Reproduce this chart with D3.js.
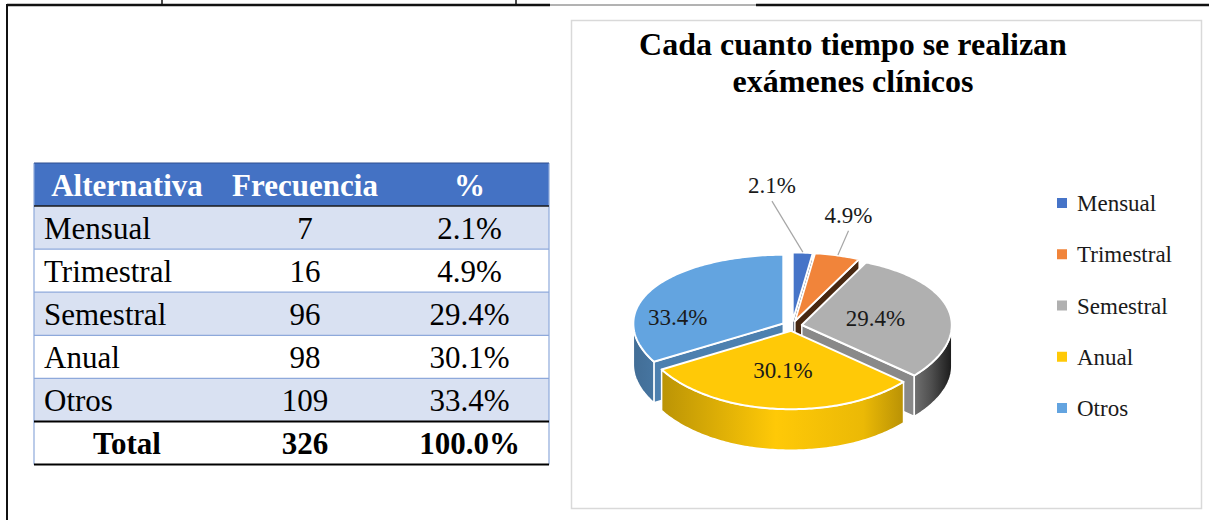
<!DOCTYPE html>
<html>
<head>
<meta charset="utf-8">
<script src="https://cdn.jsdelivr.net/npm/d3@7"></script>
<style>
  body { margin: 0; background: #ffffff; overflow: hidden; }
</style>
</head>
<body>
<script>
const categories = ["Mensual", "Trimestral", "Semestral", "Anual", "Otros"];
const frequencies = [7, 16, 96, 98, 109];
const percentLabels = ["2.1%", "4.9%", "29.4%", "30.1%", "33.4%"];
const headers = ["Alternativa", "Frecuencia", "%"];
const totalRow = ["Total", "326", "100.0%"];
const titleLines = ["Cada cuanto tiempo se realizan", "exámenes clínicos"];

const sliceColors = ["#4674C8", "#F1843A", "#B0B0B0", "#FFC907", "#63A4E0"];

const width = 1209;
const height = 520;
const serif = "'Liberation Serif', 'Times New Roman', serif";

const svg = d3
  .select("body")
  .append("svg")
  .attr("width", width)
  .attr("height", height);

// page frame (top rule and left rule of the scanned page)
const frame = svg.append("g").attr("stroke", "#111");
frame.append("line").attr("x1", 7).attr("y1", 5).attr("x2", 550).attr("y2", 5).attr("stroke-width", 2.5);
frame.append("line").attr("x1", 550).attr("y1", 5).attr("x2", 756).attr("y2", 5).attr("stroke", "#666").attr("stroke-width", 1);
frame.append("line").attr("x1", 756).attr("y1", 5).attr("x2", width).attr("y2", 5).attr("stroke-width", 2.5);
frame.append("line").attr("x1", 7).attr("y1", 4).attr("x2", 7).attr("y2", height).attr("stroke-width", 2);
[162, 516].forEach((x) => {
  frame.append("line").attr("x1", x).attr("y1", 0).attr("x2", x).attr("y2", 4).attr("stroke-width", 1.5);
});

// ---------- table ----------
const colEdges = [34, 220, 390, 549];
const colCenter = (i) => (colEdges[i] + colEdges[i + 1]) / 2;
const rowKeys = ["header", ...categories, "total"];
const rowScale = d3.scaleBand().domain(rowKeys).range([163, 464.5]);
const rowH = rowScale.bandwidth();

const table = svg.append("g").attr("font-family", serif).attr("font-size", 31);

table
  .append("rect")
  .attr("x", colEdges[0])
  .attr("y", rowScale("header"))
  .attr("width", colEdges[3] - colEdges[0])
  .attr("height", rowH)
  .attr("fill", "#4472C4");

categories.forEach((cat, i) => {
  const y = rowScale(cat);
  table
    .append("rect")
    .attr("x", colEdges[0])
    .attr("y", y)
    .attr("width", colEdges[3] - colEdges[0])
    .attr("height", rowH)
    .attr("fill", i % 2 === 0 ? "#D9E1F2" : "#FFFFFF");
  const cells = [cat, String(frequencies[i]), percentLabels[i]];
  cells.forEach((t, j) => {
    table
      .append("text")
      .attr("x", j === 0 ? colEdges[0] + 10 : colCenter(j))
      .attr("y", y + rowH / 2 + 11)
      .attr("text-anchor", j === 0 ? "start" : "middle")
      .attr("fill", "#000")
      .text(t);
  });
  if (i > 0) {
    table
      .append("line")
      .attr("x1", colEdges[0])
      .attr("x2", colEdges[3])
      .attr("y1", y)
      .attr("y2", y)
      .attr("stroke", "#8EA9DB")
      .attr("stroke-width", 1.2);
  }
});

headers.forEach((t, j) => {
  table
    .append("text")
    .attr("x", colCenter(j))
    .attr("y", rowScale("header") + rowH / 2 + 11)
    .attr("text-anchor", "middle")
    .attr("font-weight", "bold")
    .attr("fill", "#fff")
    .text(t);
});

totalRow.forEach((t, j) => {
  table
    .append("text")
    .attr("x", colCenter(j))
    .attr("y", rowScale("total") + rowH / 2 + 11)
    .attr("text-anchor", "middle")
    .attr("font-weight", "bold")
    .attr("fill", "#000")
    .text(t);
});

const tableTop = rowScale("header");
const tableBottom = rowScale("total") + rowH;
table.append("line").attr("x1", colEdges[0]).attr("x2", colEdges[0]).attr("y1", tableTop).attr("y2", tableBottom).attr("stroke", "#8EA9DB").attr("stroke-width", 1.2);
table.append("line").attr("x1", colEdges[3]).attr("x2", colEdges[3]).attr("y1", tableTop).attr("y2", tableBottom).attr("stroke", "#8EA9DB").attr("stroke-width", 1.2);
table.append("line").attr("x1", colEdges[0]).attr("x2", colEdges[3]).attr("y1", tableTop).attr("y2", tableTop).attr("stroke", "#2F4F8F").attr("stroke-width", 1.2);
table.append("line").attr("x1", colEdges[0]).attr("x2", colEdges[3]).attr("y1", tableTop + rowH).attr("y2", tableTop + rowH).attr("stroke", "#1a1a1a").attr("stroke-width", 1.5);
table.append("line").attr("x1", colEdges[0]).attr("x2", colEdges[3]).attr("y1", rowScale("total")).attr("y2", rowScale("total")).attr("stroke", "#000").attr("stroke-width", 2);
table.append("line").attr("x1", colEdges[0]).attr("x2", colEdges[3]).attr("y1", tableBottom).attr("y2", tableBottom).attr("stroke", "#000").attr("stroke-width", 2);

// ---------- chart area ----------
svg
  .append("rect")
  .attr("x", 571.5)
  .attr("y", 20.5)
  .attr("width", 630)
  .attr("height", 488)
  .attr("fill", "#fff")
  .attr("stroke", "#d9d9d9")
  .attr("stroke-width", 1.5);

const title = svg
  .append("text")
  .attr("font-family", serif)
  .attr("font-size", 32)
  .attr("font-weight", "bold")
  .attr("text-anchor", "middle")
  .attr("fill", "#000");
titleLines.forEach((line, i) => {
  title.append("tspan").attr("x", 853).attr("y", 55 + i * 37).text(line);
});

// ---------- 3D pie ----------
const cx = 792;
const cy = 326;
const R = 150;
const kMid = 0.49;
const kDelta = 0.03;
const depth = 41;
const explode = 10;

const arcs = d3.pie().sort(null).value((d) => d)(frequencies);

function project(u, v, drop = 0) {
  const t = Math.max(-1, Math.min(1, v / R));
  return [cx + u, cy + v * (kMid + kDelta * t) + drop];
}

function midAngle(a) {
  return (a.startAngle + a.endAngle) / 2;
}

function planePoint(a, angle, r) {
  const m = midAngle(a);
  return [
    explode * Math.sin(m) + r * Math.sin(angle),
    -explode * Math.cos(m) - r * Math.cos(angle),
  ];
}

function point(a, angle, r, drop = 0) {
  const [u, v] = planePoint(a, angle, r);
  return project(u, v, drop);
}

function anglesBetween(a0, a1) {
  const n = Math.max(2, Math.ceil((a1 - a0) / (Math.PI / 180)));
  return d3.range(n + 1).map((i) => a0 + ((a1 - a0) * i) / n);
}

function shade(color, f) {
  const c = d3.rgb(color);
  return d3.rgb(c.r * f, c.g * f, c.b * f).formatHex();
}

const defs = svg.append("defs");
const wallStops = [
  [0, 0.66],
  [0.45, 1.0],
  [0.72, 0.92],
  [0.86, 0.7],
  [0.93, 0.45],
  [1, 0.12],
];
sliceColors.forEach((color, i) => {
  const g = defs
    .append("linearGradient")
    .attr("id", `wall-${i}`)
    .attr("gradientUnits", "userSpaceOnUse")
    .attr("x1", cx - R - 12)
    .attr("x2", cx + R + 12)
    .attr("y1", 0)
    .attr("y2", 0);
  wallStops.forEach(([o, f]) => {
    g.append("stop").attr("offset", o).attr("stop-color", shade(color, f));
  });
});

const line = d3.line();
const pieLayer = svg.append("g").attr("stroke", "#fff").attr("stroke-width", 1.5).attr("stroke-linejoin", "round");

// radial side faces, visible when their normal points toward the viewer
const radialFaces = [];
arcs.forEach((a, i) => {
  [
    [a.startAngle, a.startAngle - Math.PI / 2],
    [a.endAngle, a.endAngle + Math.PI / 2],
  ].forEach(([ang, normal]) => {
    if (Math.cos(normal) >= -0.02) return;
    const deg = ((normal * 180) / Math.PI + 360) % 360;
    const t = Math.max(0, Math.min(1, (deg - 120) / 25));
    const f = 0.3 + 0.48 * (t * t * (3 - 2 * t));
    const pts = [
      point(a, ang, 0),
      point(a, ang, R),
      point(a, ang, R, depth),
      point(a, ang, 0, depth),
    ];
    radialFaces.push({ pts, fill: shade(sliceColors[i], f), key: point(a, ang, R / 2)[1] });
  });
});
radialFaces.sort((p, q) => p.key - q.key);
radialFaces.forEach((f) => {
  pieLayer.append("path").attr("d", line(f.pts) + "Z").attr("fill", f.fill);
});

// outer walls on the near half of the pie
arcs.forEach((a, i) => {
  const lo = Math.max(a.startAngle, Math.PI / 2);
  const hi = Math.min(a.endAngle, (3 * Math.PI) / 2);
  if (lo >= hi) return;
  const angs = anglesBetween(lo, hi);
  const top = angs.map((t) => point(a, t, R));
  const bottom = angs.slice().reverse().map((t) => point(a, t, R, depth));
  pieLayer
    .append("path")
    .attr("d", line(top.concat(bottom)) + "Z")
    .attr("fill", `url(#wall-${i})`);
});

// top faces
arcs.forEach((a, i) => {
  const pts = [point(a, 0, 0)].concat(anglesBetween(a.startAngle, a.endAngle).map((t) => point(a, t, R)));
  pieLayer
    .append("path")
    .attr("d", line(pts) + "Z")
    .attr("fill", sliceColors[i])
    .attr("stroke-width", 2);
});

// data labels: [angle in degrees, radius as share of R]
const labelSpots = [
  [356, 1.98],
  [13, 1.59],
  [79, 0.5],
  [186, 0.52],
  [277, 0.71],
];
const labelLayer = svg.append("g").attr("font-family", serif).attr("font-size", 23);
arcs.forEach((a, i) => {
  const [deg, frac] = labelSpots[i];
  const [lx, ly] = point(a, (deg * Math.PI) / 180, frac * R);
  if (frac > 1) {
    const [rx, ry] = point(a, midAngle(a), R + 1);
    labelLayer
      .append("line")
      .attr("x1", lx)
      .attr("y1", ly + 16)
      .attr("x2", rx)
      .attr("y2", ry)
      .attr("stroke", "#a6a6a6")
      .attr("stroke-width", 1.2);
  }
  labelLayer
    .append("text")
    .attr("x", lx)
    .attr("y", ly + 8)
    .attr("text-anchor", "middle")
    .attr("fill", "#1a1a1a")
    .text(percentLabels[i]);
});

// legend
const legendY = d3.scalePoint().domain(categories).range([203, 408]);
const legend = svg.append("g").attr("font-family", serif).attr("font-size", 23);
categories.forEach((cat, i) => {
  const y = legendY(cat);
  legend.append("rect").attr("x", 1057).attr("y", y - 5).attr("width", 10).attr("height", 10).attr("fill", sliceColors[i]);
  legend.append("text").attr("x", 1077).attr("y", y + 8).attr("fill", "#1a1a1a").text(cat);
});
</script>
</body>
</html>
